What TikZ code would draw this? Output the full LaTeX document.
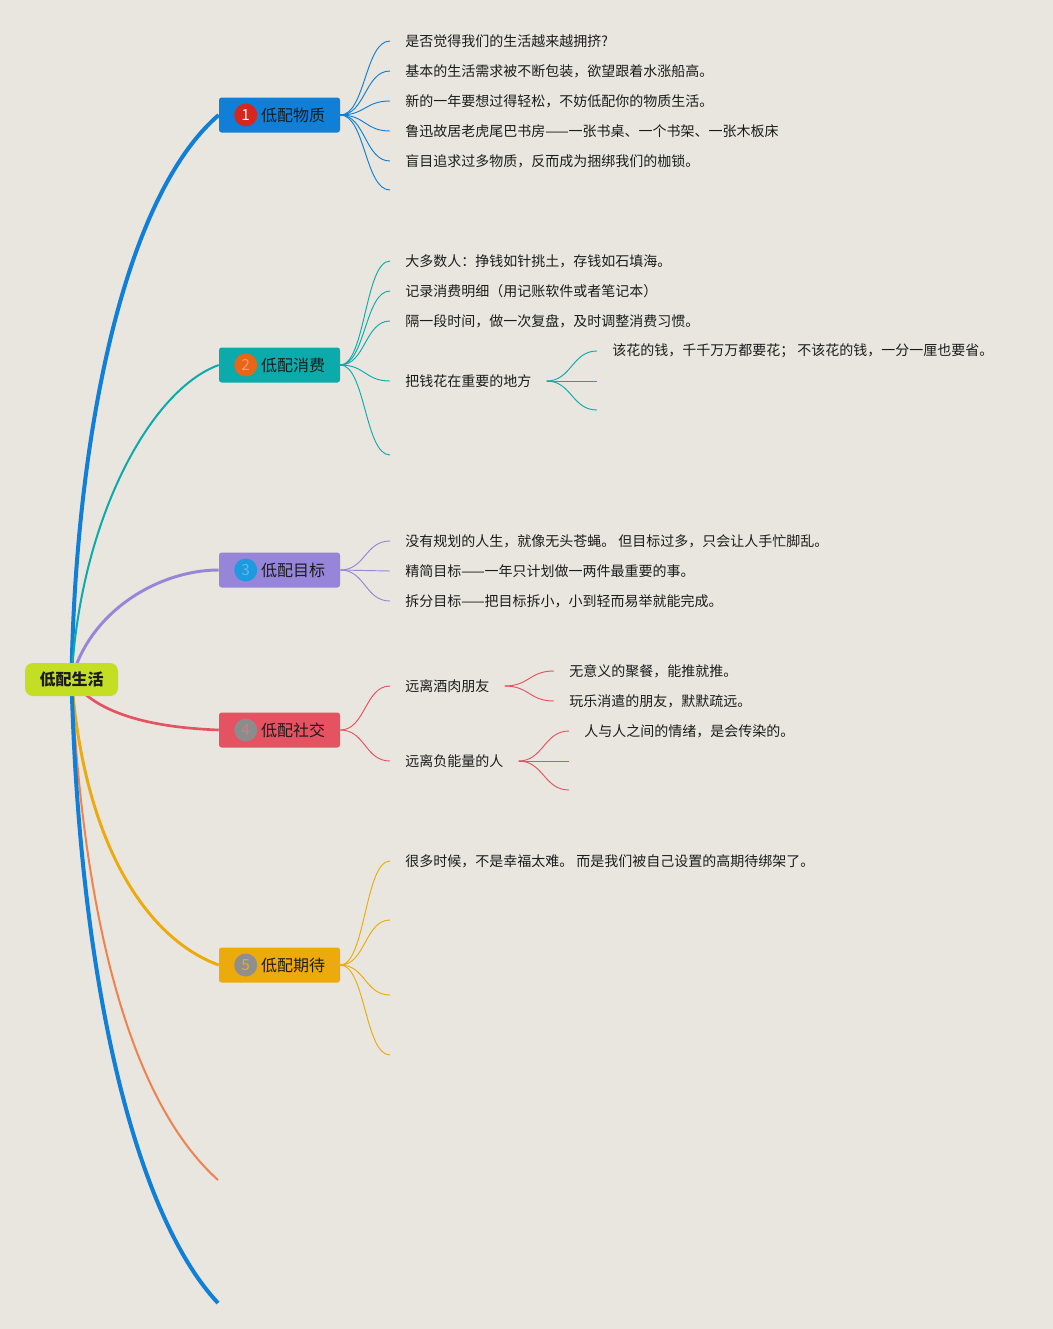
\documentclass[tikz,border=0pt]{standalone}
\usepackage{fontspec}
\setmainfont{Noto Sans CJK SC}
\usetikzlibrary{positioning}

\definecolor{bgpaper}{RGB}{233,230,223}
\definecolor{ink}{RGB}{28,28,28}
\definecolor{rootlime}{RGB}{196,222,36}
\definecolor{tblue}{RGB}{15,127,216}
\definecolor{tteal}{RGB}{12,170,170}
\definecolor{tpurple}{RGB}{150,133,216}
\definecolor{tred}{RGB}{229,82,97}
\definecolor{tyellow}{RGB}{236,170,12}
\definecolor{torange}{RGB}{240,130,80}

\pgfdeclarelayer{paper}
\pgfdeclarelayer{edges}
\pgfsetlayers{paper,edges,main}

\tikzset{every picture/.style={line width=0.75pt}}
\tikzset{
  rootbox/.style={fill=rootlime, rounded corners=6pt, minimum width=69.75pt, minimum height=24.75pt, inner sep=0pt, text=ink, font=\fontsize{12}{14}\selectfont\bfseries},
  topic/.style={rounded corners=2pt, minimum height=26.25pt, inner ysep=0pt, inner xsep=11.25pt, text=ink, font=\fontsize{12}{14}\selectfont},
  numdot/.style={circle, minimum size=17.25pt, inner sep=0pt, font=\fontsize{11.5}{12}\selectfont},
  leaf/.style={anchor=west, inner xsep=11.25pt, inner ysep=2pt, text=ink, font=\fontsize{10.5}{12}\selectfont},
  twig/.style={line width=0.7pt},
  fan/.style={to path={.. controls +(25,0) and +(-25,0) .. (\tikztotarget)}},
}

\begin{document}
\begin{tikzpicture}[x=0.75pt,y=0.75pt,yscale=-1,xscale=1]
%set diagram: 1053 x 1329
\begin{pgfonlayer}{paper}
\fill[bgpaper] (0,0) rectangle (1053,1329);
\end{pgfonlayer}

%Root
\node[rootbox] (life) at (71.5,679.5) {低配生活};

%Topics
\node[topic, fill=tblue] (wuzhi) at (279.5,115) {\hspace*{20.25pt}低配物质};
\node[numdot, fill={rgb,255:red,215;green,38;blue,27}, text=white] (n1) at ([xshift=20.25pt]wuzhi.west) {1};
\node[topic, fill=tteal] (xiaofei) at (279.5,365) {\hspace*{20.25pt}低配消费};
\node[numdot, fill={rgb,255:red,232;green,101;blue,26}, text={rgb,255:red,243;green,160;blue,106}] (n2) at ([xshift=20.25pt]xiaofei.west) {2};
\node[topic, fill=tpurple] (mubiao) at (279.5,570) {\hspace*{20.25pt}低配目标};
\node[numdot, fill={rgb,255:red,30;green,154;blue,224}, text={rgb,255:red,98;green,183;blue,238}] (n3) at ([xshift=20.25pt]mubiao.west) {3};
\node[topic, fill=tred] (shejiao) at (279.5,730) {\hspace*{20.25pt}低配社交};
\node[numdot, fill={rgb,255:red,140;green,140;blue,140}, text={rgb,255:red,210;green,124;blue,133}] (n4) at ([xshift=20.25pt]shejiao.west) {4};
\node[topic, fill=tyellow] (qidai) at (279.5,965) {\hspace*{20.25pt}低配期待};
\node[numdot, fill={rgb,255:red,143;green,143;blue,143}, text={rgb,255:red,226;green,176;blue,33}] (n5) at ([xshift=20.25pt]qidai.west) {5};
\coordinate (tailA) at (218,1180);
\coordinate (tailB) at (218,1303);

%Root connectors
\begin{pgfonlayer}{edges}
\draw[tblue, line width=3pt] (life.center) .. controls (75,450) and (120,200) .. (wuzhi.west);
\draw[tteal, line width=1.5pt] (life.center) .. controls (80,520) and (150,390) .. (xiaofei.west);
\draw[tpurple, line width=2.2pt] (life.center) .. controls (90,610) and (160,570) .. (mubiao.west);
\draw[tred, line width=2pt] (life.center) .. controls (100,720) and (170,728) .. (shejiao.west);
\draw[tyellow, line width=2.2pt] (life.center) .. controls (85,850) and (150,940) .. (qidai.west);
\draw[torange, line width=1.5pt] (life.center) .. controls (85,950) and (140,1110) .. (tailA);
\draw[tblue, line width=3pt] (life.center) .. controls (80,1000) and (140,1220) .. (tailB);
\end{pgfonlayer}

% Text Node: 低配物质
\node[leaf] (w1) at (390,41) {是否觉得我们的生活越来越拥挤?};
\node[leaf] (w2) at (390,71) {基本的生活需求被不断包装，欲望跟着水涨船高。};
\node[leaf] (w3) at (390,101) {新的一年要想过得轻松，不妨低配你的物质生活。};
\node[leaf] (w4) at (390,131) {鲁迅故居老虎尾巴书房——一张书桌、一个书架、一张木板床};
\node[leaf] (w5) at (390,161) {盲目追求过多物质，反而成为捆绑我们的枷锁。};
\coordinate (w6) at (390,190);
\foreach \t in {w1,w2,w3,w4,w5,w6}
  \draw[twig, tblue] (wuzhi.east) to[fan] (\t.west);

% Text Node: 低配消费
\node[leaf] (x1) at (390,261) {大多数人：挣钱如针挑土，存钱如石填海。};
\node[leaf] (x2) at (390,291) {记录消费明细（用记账软件或者笔记本）};
\node[leaf] (x3) at (390,321) {隔一段时间，做一次复盘，及时调整消费习惯。};
\node[leaf] (money) at (390,381) {把钱花在重要的地方};
\coordinate (x5) at (390,455);
\foreach \t in {x1,x2,x3,money,x5}
  \draw[twig, tteal] (xiaofei.east) to[fan] (\t.west);
\node[leaf] (q1) at (597,351) {该花的钱，千千万万都要花； 不该花的钱，一分一厘也要省。};
\coordinate (q2) at (597,381);
\coordinate (q3) at (597,410);
\foreach \t in {q1,q2,q3}
  \draw[twig, tteal] (money.east) to[fan] (\t.west);

% Text Node: 低配目标
\node[leaf] (m1) at (390,541) {没有规划的人生，就像无头苍蝇。 但目标过多，只会让人手忙脚乱。};
\node[leaf] (m2) at (390,571) {精简目标——一年只计划做一两件最重要的事。};
\node[leaf] (m3) at (390,601) {拆分目标——把目标拆小，小到轻而易举就能完成。};
\foreach \t in {m1,m2,m3}
  \draw[twig, tpurple] (mubiao.east) to[fan] (\t.west);

% Text Node: 低配社交
\node[leaf] (friend) at (390,686) {远离酒肉朋友};
\node[leaf] (negative) at (390,761) {远离负能量的人};
\foreach \t in {friend,negative}
  \draw[twig, tred] (shejiao.east) to[fan] (\t.west);
\node[leaf] (f1) at (554,671) {无意义的聚餐，能推就推。};
\node[leaf] (f2) at (554,701) {玩乐消遣的朋友，默默疏远。};
\foreach \t in {f1,f2}
  \draw[twig, tred] (friend.east) to[fan] (\t.west);
\node[leaf] (g1) at (569,731) {人与人之间的情绪，是会传染的。};
\coordinate (g2) at (569,761);
\coordinate (g3) at (569,790);
\foreach \t in {g1,g2,g3}
  \draw[twig, tred] (negative.east) to[fan] (\t.west);

% Text Node: 低配期待
\node[leaf] (d1) at (390,861) {很多时候，不是幸福太难。 而是我们被自己设置的高期待绑架了。};
\coordinate (d2) at (390,920);
\coordinate (d3) at (390,995);
\coordinate (d4) at (390,1055);
\foreach \t in {d1,d2,d3,d4}
  \draw[twig, tyellow] (qidai.east) to[fan] (\t.west);

\end{tikzpicture}
\end{document}
